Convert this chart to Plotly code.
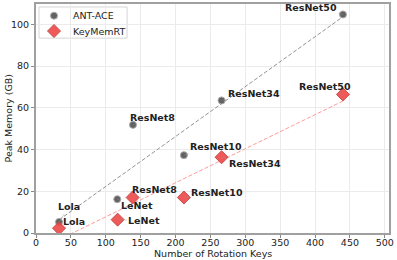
import numpy as np
import plotly.graph_objects as go

models = ["Lola", "LeNet", "ResNet8", "ResNet10", "ResNet34", "ResNet50"]
ant_keys = [33, 116.5, 139, 212, 266, 440]
ant_mem = [5.3, 16.2, 51.8, 37.3, 63.5, 104.7]
kmr_keys = [33, 117, 138.5, 212, 266, 440]
kmr_mem = [2.3, 6.4, 17.0, 17.0, 36.3, 66.4]
series_names = ["ANT-ACE", "KeyMemRT"]

# label offsets in pixels (text centre relative to point)
ant_off = [(9.5, -15), (20, 6.7), (19.7, -7.4), (32, -8.3), (32.5, -7), (-32, -7)]
kmr_off = [(14.7, -7), (26.5, 0.7), (21.6, -8), (33.5, -5), (33, 6.3), (-17.8, -8.3)]

FONT = "DejaVu Sans"
ant_marker = dict(symbol="circle", size=7, color="rgba(70,70,70,0.85)",
                  line=dict(color="#aaaaaa", width=1))
kmr_marker = dict(symbol="diamond", size=10, color="rgba(240,70,70,0.9)",
                  line=dict(color="#c05050", width=1))

fig = go.Figure()

def fit_line(xs, ys):
    m, b = np.polyfit(xs, ys, 1)
    xl = np.array([min(xs), max(xs)])
    return xl, m * xl + b

xl, yl = fit_line(ant_keys, ant_mem)
fig.add_trace(go.Scatter(x=xl, y=yl, mode="lines", showlegend=False, hoverinfo="skip",
                         line=dict(color="rgba(120,120,120,0.8)", width=1, dash="4px,2px")))
xl, yl = fit_line(kmr_keys, kmr_mem)
fig.add_trace(go.Scatter(x=xl, y=yl, mode="lines", showlegend=False, hoverinfo="skip",
                         line=dict(color="rgba(255,120,120,0.75)", width=1, dash="4px,2px")))

fig.add_trace(go.Scatter(x=ant_keys, y=ant_mem, mode="markers", name=series_names[0],
                         showlegend=False, marker=ant_marker))
fig.add_trace(go.Scatter(x=kmr_keys, y=kmr_mem, mode="markers", name=series_names[1],
                         showlegend=False, marker=kmr_marker))

for keys, mem, offs in [(ant_keys, ant_mem, ant_off), (kmr_keys, kmr_mem, kmr_off)]:
    for name, x, y, (dx, dy) in zip(models, keys, mem, offs):
        fig.add_annotation(x=x, y=y, ax=dx, ay=dy, text="<b>" + name + "</b>",
                           showarrow=True, arrowhead=0, arrowwidth=0.6,
                           arrowcolor="rgba(150,150,150,0.7)",
                           font=dict(family=FONT, size=9.5, color="#222222"))

# manual legend (in overlay axes spanning [0,1])
fig.add_shape(type="rect", xref="x2", yref="y2", x0=0.0085, x1=0.258, y0=0.851, y1=0.987,
              line=dict(color="#d5d5d5", width=1), fillcolor="rgba(255,255,255,0.9)",
              layer="below")
fig.add_trace(go.Scatter(x=[0.051], y=[0.949], xaxis="x2", yaxis="y2", mode="markers",
                         showlegend=False, hoverinfo="skip", marker=ant_marker))
fig.add_trace(go.Scatter(x=[0.051], y=[0.882], xaxis="x2", yaxis="y2", mode="markers",
                         showlegend=False, hoverinfo="skip", marker=kmr_marker))
for name, yy in zip(series_names, [0.949, 0.882]):
    fig.add_annotation(x=0.099, y=yy, xref="x2", yref="y2", text=name, showarrow=False,
                       xanchor="left", yanchor="middle",
                       font=dict(family=FONT, size=9.5, color="#222222"))

# axis titles
fig.add_annotation(x=0.5, y=0, xref="paper", yref="paper", yshift=-20, text="Number of Rotation Keys",
                   showarrow=False, xanchor="center", yanchor="middle",
                   font=dict(family=FONT, size=9.5, color="#222222"))
fig.add_annotation(x=0, y=0.5, xref="paper", yref="paper", xshift=-28, text="Peak Memory (GB)",
                   textangle=-90, showarrow=False, xanchor="center", yanchor="middle",
                   font=dict(family=FONT, size=9.5, color="#222222"))

axis_common = dict(showgrid=True, gridcolor="#ebebeb", gridwidth=1, zeroline=False,
                   showline=True, linecolor="#a0a0a0", linewidth=2, mirror=True,
                   ticks="outside", ticklen=3, tickcolor="#888888", automargin=False,
                   tickfont=dict(family=FONT, size=9.5, color="#222222"))

fig.update_layout(
    width=397, height=260,
    margin=dict(l=36, r=8, t=4, b=27, pad=0),
    plot_bgcolor="white", paper_bgcolor="white",
    font=dict(family=FONT, size=9, color="#222222"),
    showlegend=False,
    xaxis=dict(range=[0, 506], tickvals=[0, 50, 100, 150, 200, 250, 300, 350, 400, 450, 500],
               ticklabelstandoff=-3, **axis_common),
    yaxis=dict(range=[0, 109.7], tickvals=[0, 20, 40, 60, 80, 100], **axis_common),
    xaxis2=dict(range=[0, 1], overlaying="x", visible=False, fixedrange=True),
    yaxis2=dict(range=[0, 1], overlaying="y", visible=False, fixedrange=True),
)

fig.write_html("out.html", config={"displayModeBar": False},
               post_script="document.body.style.margin='0';")
